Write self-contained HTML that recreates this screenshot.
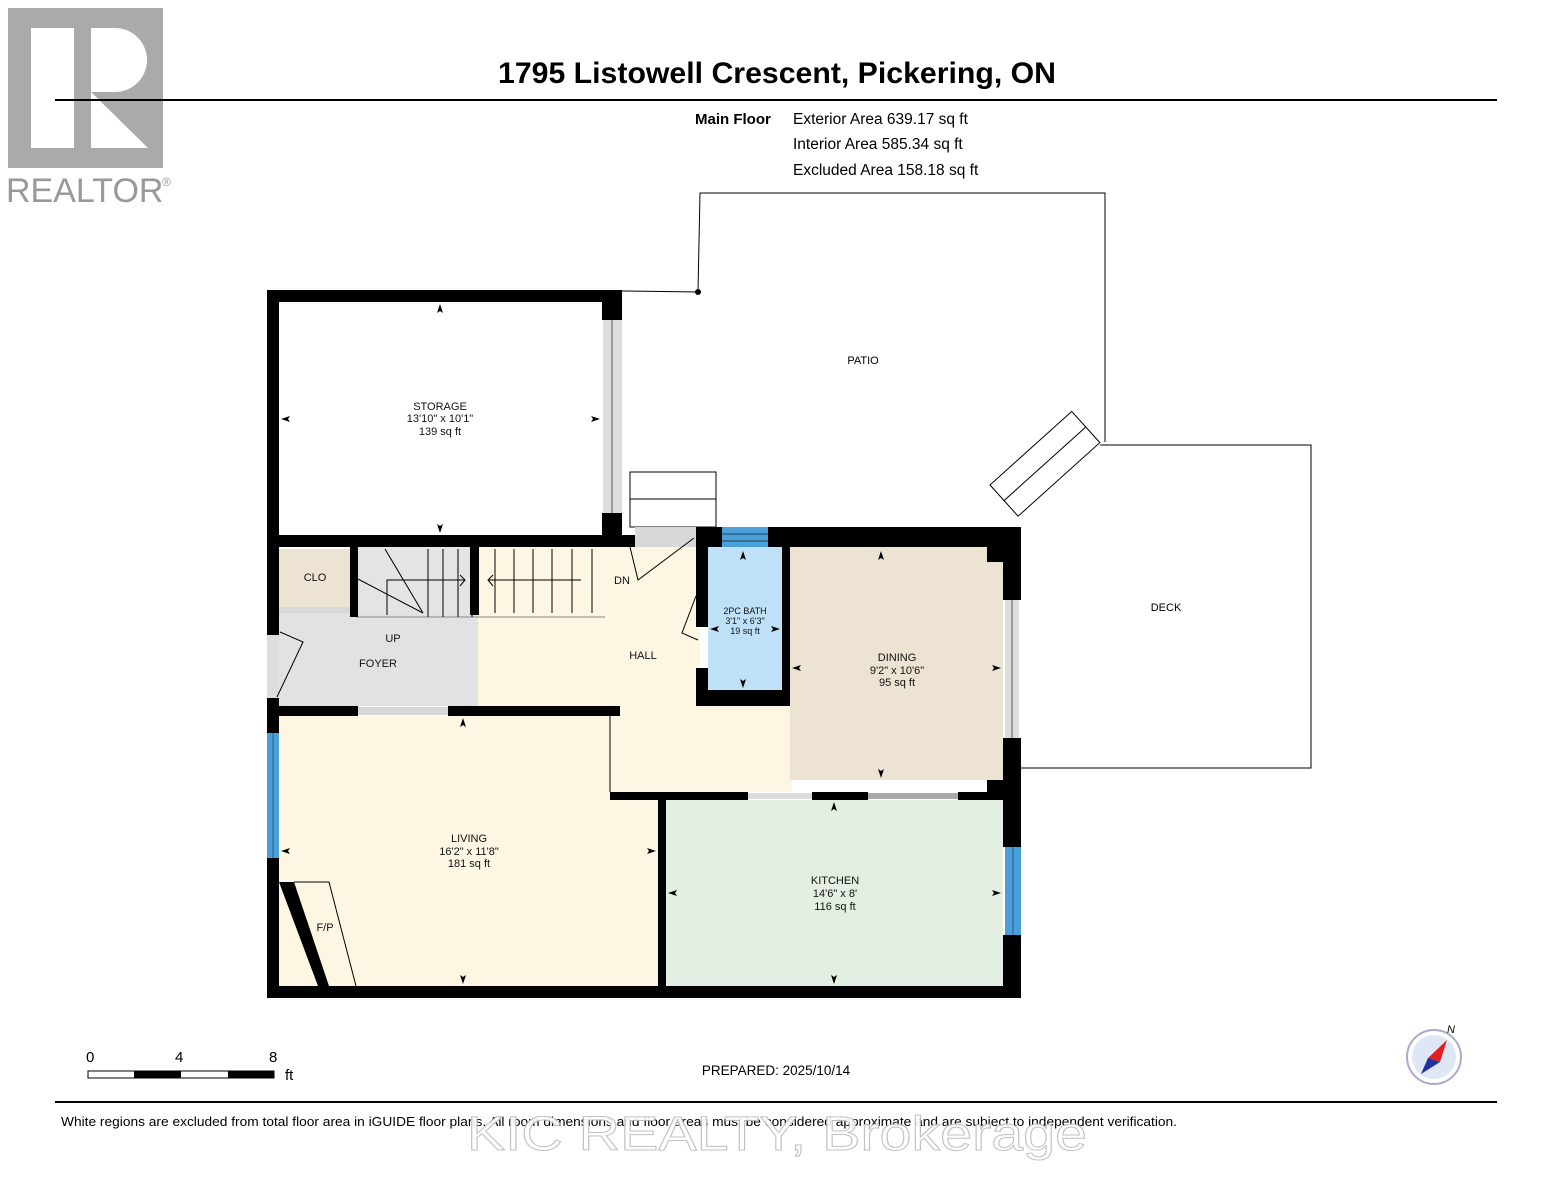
<!DOCTYPE html>
<html><head><meta charset="utf-8"><style>
body{margin:0;background:#fff}
svg{display:block}
text{font-family:"Liberation Sans",sans-serif}
</style></head><body>
<svg width="1553" height="1200" viewBox="0 0 1553 1200" xmlns="http://www.w3.org/2000/svg">
<rect x="8" y="8" width="155" height="160" fill="#aaaaaa"/>
<rect x="31" y="28" width="43" height="120" fill="#fff"/>
<path d="M91 28 H115 A32 32 0 0 1 115 92 H91 Z" fill="#fff"/>
<path d="M91 92 L148 148 H91 Z" fill="#fff"/>
<text x="6" y="202" font-size="34" fill="#999">REALTOR</text>
<text x="162" y="186" font-size="12" fill="#999">®</text>
<text x="777" y="83" font-size="29.5" font-weight="bold" text-anchor="middle" fill="#000" textLength="558" lengthAdjust="spacingAndGlyphs">1795 Listowell Crescent, Pickering, ON</text>
<line x1="55" y1="100" x2="1497" y2="100" stroke="#000" stroke-width="2"/>
<text x="695" y="124" font-size="15" font-weight="bold">Main Floor</text>
<text x="793" y="124" font-size="15.5">Exterior Area 639.17 sq ft</text>
<text x="793" y="149" font-size="15.5">Interior Area 585.34 sq ft</text>
<text x="793" y="175" font-size="15.5">Excluded Area 158.18 sq ft</text>

<polyline points="622,291 698,292 700,193 1105,193 1105,442" fill="none" stroke="#000" stroke-width="1"/>
<circle cx="698" cy="292" r="3" fill="#000"/>
<polyline points="1100,445 1311,445 1311,768 1021,768" fill="none" stroke="#000" stroke-width="1"/>
<g transform="translate(990,485) rotate(-42)">
<rect x="0" y="0" width="110" height="42" fill="#fff" stroke="#000"/>
<line x1="0" y1="21" x2="110" y2="21" stroke="#000"/>
</g>
<rect x="630" y="472" width="86" height="55" fill="#fff" stroke="#000"/>
<line x1="630" y1="499" x2="716" y2="499" stroke="#000"/>
<text x="863" y="364" font-size="11" text-anchor="middle">PATIO</text>
<text x="1166" y="611" font-size="11" text-anchor="middle">DECK</text>

<rect x="279" y="549" width="71" height="58" fill="#ece3d3"/>
<rect x="356" y="547" width="249" height="70" fill="#e4e4e4"/>
<rect x="279" y="613" width="199" height="93" fill="#e2e2e2"/>
<rect x="478" y="547" width="222" height="159" fill="#fdf6e3"/>
<rect x="605" y="547" width="95" height="70" fill="#fdf6e3"/>
<rect x="610" y="706" width="182" height="86" fill="#fdf6e3"/>
<rect x="700" y="690" width="92" height="20" fill="#fdf6e3"/>
<rect x="790" y="547" width="213" height="233" fill="#ede3d3"/>
<rect x="279" y="716" width="379" height="270" fill="#fdf6e3"/>
<rect x="666" y="800" width="337" height="186" fill="#e4efe4"/>
<rect x="708" y="547" width="74" height="143" fill="#bfe1f7"/>
<rect x="635" y="527" width="61" height="20" fill="#d8d8d8"/>

<g stroke="#000" stroke-width="1" fill="none">
<line x1="356" y1="617" x2="605" y2="617" stroke="#888"/>
<line x1="428" y1="549" x2="428" y2="617"/><line x1="443" y1="549" x2="443" y2="617"/><line x1="458" y1="549" x2="458" y2="617"/><line x1="472" y1="549" x2="472" y2="617"/>
<line x1="495" y1="549" x2="495" y2="613"/><line x1="514" y1="549" x2="514" y2="613"/><line x1="533" y1="549" x2="533" y2="613"/><line x1="552" y1="549" x2="552" y2="613"/><line x1="572" y1="549" x2="572" y2="613"/><line x1="592" y1="549" x2="592" y2="613"/>
<line x1="385" y1="549" x2="423" y2="613"/><line x1="356" y1="578" x2="423" y2="613"/>
<polyline points="387,615 387,580 465,580"/><polyline points="460,575 465,580 460,586"/>
<line x1="488" y1="580" x2="581" y2="580"/><polyline points="493,575 488,580 493,586"/>
</g>
<rect x="470" y="547" width="9" height="68" fill="#000"/>
<rect x="350" y="547" width="8" height="70" fill="#000"/>
<rect x="279" y="607" width="71" height="6" fill="#d8d8d8"/>

<g fill="#000">
<rect x="267" y="290" width="355" height="12"/>
<rect x="267" y="290" width="12" height="345"/>
<rect x="267" y="698" width="12" height="35"/>
<rect x="267" y="858" width="12" height="140"/>
<rect x="602" y="290" width="20" height="30"/>
<rect x="602" y="513" width="20" height="22"/>
<rect x="267" y="535" width="355" height="12"/>
<rect x="603" y="535" width="32" height="12"/>
<rect x="696" y="527" width="325" height="20"/>
<rect x="696" y="547" width="12" height="80"/>
<rect x="696" y="668" width="12" height="38"/>
<rect x="782" y="547" width="8" height="159"/>
<rect x="696" y="690" width="94" height="16"/>
<rect x="987" y="547" width="16" height="15"/>
<rect x="1003" y="527" width="18" height="73"/>
<rect x="1003" y="738" width="18" height="109"/>
<rect x="1003" y="935" width="18" height="63"/>
<rect x="987" y="780" width="16" height="20"/>
<rect x="267" y="986" width="754" height="12"/>
<rect x="279" y="706" width="79" height="10"/>
<rect x="448" y="706" width="172" height="10"/>
<rect x="610" y="792" width="138" height="8"/>
<rect x="812" y="792" width="56" height="8"/>
<rect x="958" y="792" width="45" height="8"/>
<rect x="658" y="800" width="8" height="186"/>
<polygon points="279,882 294,882 329,986 318,986"/>
</g>
<line x1="610" y1="716" x2="610" y2="792" stroke="#000"/>
<rect x="358" y="707" width="90" height="8" fill="#d8d8d8"/>
<rect x="748" y="793" width="64" height="6" fill="#ddd"/>
<rect x="868" y="793" width="90" height="6" fill="#aaa"/>
<rect x="603" y="320" width="19" height="193" fill="#ddd"/>
<line x1="612" y1="320" x2="612" y2="513" stroke="#555"/>
<rect x="1005" y="600" width="14" height="138" fill="#ddd"/>
<line x1="1012" y1="600" x2="1012" y2="738" stroke="#555"/>
<rect x="267" y="733" width="12" height="125" fill="#4a9fd8"/>
<line x1="273" y1="733" x2="273" y2="858" stroke="#1d5d8a"/>
<rect x="1005" y="847" width="16" height="88" fill="#4a9fd8"/>
<line x1="1013" y1="847" x2="1013" y2="935" stroke="#1d5d8a"/>
<rect x="722" y="527" width="46" height="20" fill="#4a9fd8"/>
<line x1="722" y1="534" x2="768" y2="534" stroke="#1d3d5a"/>
<line x1="722" y1="541" x2="768" y2="541" stroke="#1d3d5a"/>
<rect x="267" y="635" width="12" height="63" fill="#ddd"/>
<polyline points="277,697 303,642 280,632" fill="none" stroke="#000"/>
<polyline points="630,547 638,580 694,538" fill="none" stroke="#000"/>
<polyline points="696,596 682,633 698,640" fill="none" stroke="#000"/>
<line x1="294" y1="882" x2="329" y2="882" stroke="#000"/>
<line x1="329" y1="882" x2="356" y2="986" stroke="#000"/>

<g font-size="11" text-anchor="middle" fill="#111">
<text x="440" y="410">STORAGE</text><text x="440" y="422">13'10" x 10'1"</text><text x="440" y="435">139 sq ft</text>
<text x="315" y="581">CLO</text>
<text x="393" y="642">UP</text>
<text x="378" y="667">FOYER</text>
<text x="622" y="584">DN</text>
<text x="643" y="659">HALL</text>
<text x="745" y="614" font-size="9">2PC BATH</text><text x="745" y="624" font-size="9">3'1" x 6'3"</text><text x="745" y="634" font-size="9">19 sq ft</text>
<text x="897" y="661">DINING</text><text x="897" y="674">9'2" x 10'6"</text><text x="897" y="686">95 sq ft</text>
<text x="469" y="842">LIVING</text><text x="469" y="855">16'2" x 11'8"</text><text x="469" y="867">181 sq ft</text>
<text x="835" y="884">KITCHEN</text><text x="835" y="897">14'6" x 8'</text><text x="835" y="910">116 sq ft</text>
<text x="325" y="931">F/P</text>
</g>
<g fill="#000">
<path d="M440 304 l-3 9 l3 -2 l3 2z"/><path d="M440 533 l-3 -9 l3 2 l3 -2z"/>
<path d="M281 419 l9 -3 l-2 3 l2 3z"/><path d="M600 419 l-9 -3 l2 3 l-2 3z"/>
<path d="M743 551 l-3 9 l3 -2 l3 2z"/><path d="M743 688 l-3 -9 l3 2 l3 -2z"/>
<path d="M710 629 l9 -3 l-2 3 l2 3z"/><path d="M780 629 l-9 -3 l2 3 l-2 3z"/>
<path d="M881 551 l-3 9 l3 -2 l3 2z"/><path d="M881 778 l-3 -9 l3 2 l3 -2z"/>
<path d="M792 668 l9 -3 l-2 3 l2 3z"/><path d="M1001 668 l-9 -3 l2 3 l-2 3z"/>
<path d="M463 718 l-3 9 l3 -2 l3 2z"/><path d="M463 984 l-3 -9 l3 2 l3 -2z"/>
<path d="M281 851 l9 -3 l-2 3 l2 3z"/><path d="M656 851 l-9 -3 l2 3 l-2 3z"/>
<path d="M834 802 l-3 9 l3 -2 l3 2z"/><path d="M834 984 l-3 -9 l3 2 l3 -2z"/>
<path d="M668 893 l9 -3 l-2 3 l2 3z"/><path d="M1001 893 l-9 -3 l2 3 l-2 3z"/>
</g>

<g font-size="15">
<text x="86" y="1062">0</text><text x="175" y="1062">4</text><text x="269" y="1062">8</text><text x="285" y="1080">ft</text>
</g>
<rect x="88" y="1071" width="186" height="7" fill="#fff" stroke="#000"/>
<rect x="134" y="1071" width="47" height="7" fill="#000"/>
<rect x="228" y="1071" width="46" height="7" fill="#000"/>
<text x="776" y="1075" font-size="13.5" text-anchor="middle">PREPARED: 2025/10/14</text>
<circle cx="1434" cy="1057" r="27" fill="#fff" stroke="#aac" stroke-width="2"/>
<circle cx="1434" cy="1057" r="22" fill="#dde7f5"/>
<polygon points="1447,1040 1428,1058 1440,1062" fill="#e02020"/>
<polygon points="1421,1074 1428,1058 1440,1062" fill="#2030a0"/>
<text x="1447" y="1033" font-size="11" font-style="italic">N</text>
<line x1="55" y1="1102" x2="1497" y2="1102" stroke="#000" stroke-width="2"/>
<text x="61" y="1126" font-size="13" textLength="1116" lengthAdjust="spacingAndGlyphs">White regions are excluded from total floor area in iGUIDE floor plans. All room dimensions and floor areas must be considered approximate and are subject to independent verification.</text>
<text x="777" y="1150" font-size="48" text-anchor="middle" fill="#fff" stroke="#bbb" stroke-width="1" opacity="0.9" textLength="620" lengthAdjust="spacingAndGlyphs">KIC REALTY, Brokerage</text>
</svg>
</body></html>
